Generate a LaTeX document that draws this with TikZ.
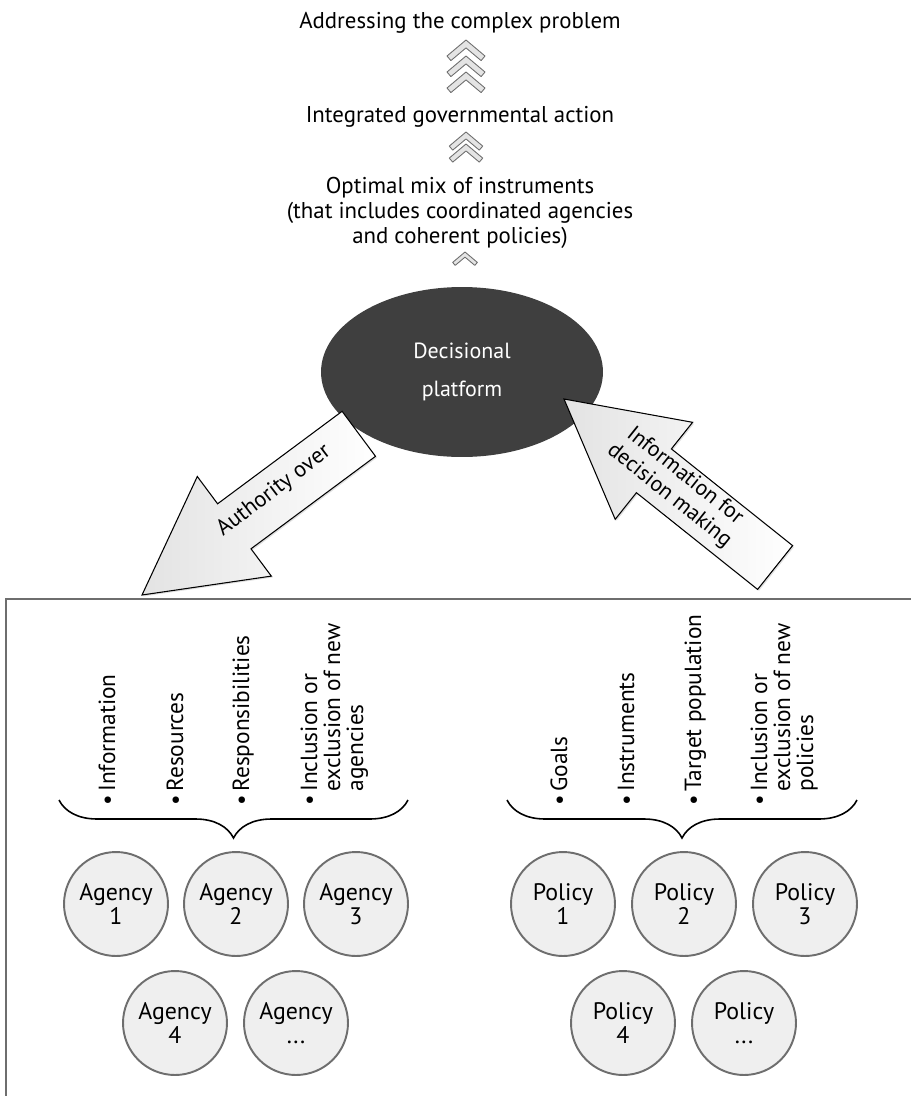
\documentclass[tikz,border=0pt]{standalone}
\usepackage{fontspec}
\setmainfont{PT Sans}
\usepackage{tikz}
\usetikzlibrary{positioning, shapes.geometric, decorations.pathreplacing, shadows}
\definecolor{grisPlataforma}{HTML}{3F3F3F}
\definecolor{grisChevron}{HTML}{E4E4E4}
\definecolor{grisBorde}{HTML}{6E6E6E}
\definecolor{grisBurbuja}{HTML}{EFEFEF}

\begin{document}
\begin{tikzpicture}[
  x=0.02cm, y=-0.02cm,
  every node/.style={font=\fontsize{13}{14.2}\selectfont},
  titulo/.style={anchor=base, align=center},
  chev/.style={fill=grisChevron, draw=grisBorde, line width=0.5pt, line join=round},
  flecha/.style={draw=black, line width=0.6pt, line join=miter, left color=gray!22, right color=white,
    drop shadow={shadow xshift=0.8pt, shadow yshift=-0.8pt, opacity=0.25}},
  viñeta/.style={rotate=90, anchor=base west, inner sep=0pt, font=\fontsize{13.3}{12.4}\selectfont},
  llave/.style={decorate, decoration={brace, amplitude=0.76cm, mirror}, line width=0.9pt},
  burbuja/.style={circle, minimum size=2.08cm, inner sep=0pt, fill=grisBurbuja, draw=grisBorde,
    line width=1.1pt, align=center, font=\fontsize{13.6}{13.8}\selectfont}
]
  \useasboundingbox (0,0) rectangle (910,1096);

  % --- Cadena superior ---
  \node[titulo] (problema) at (460,28)  {Addressing the complex problem};
  \foreach \dy in {40,56,72}
    \draw[chev, shift={(466,\dy)}] (0,0) -- (19,16) -- (15.1,20.6) -- (0,7.9) -- (-15.1,20.6) -- (-19,16) -- cycle;
  \node[titulo] (accion) at (460,122) {Integrated governmental action};
  \foreach \dy in {132,144}
    \draw[chev, shift={(466,\dy)}, scale=0.88] (0,0) -- (19,16) -- (15.1,20.6) -- (0,7.9) -- (-15.1,20.6) -- (-19,16) -- cycle;
  \node[align=center] (mezcla) at (460,213) {Optimal mix of instruments\\(that includes coordinated agencies\\and coherent policies)};
  \draw[chev, shift={(465,252)}, scale=0.65] (0,0) -- (19,16) -- (15.1,20.6) -- (0,7.9) -- (-15.1,20.6) -- (-19,16) -- cycle;

  % --- Plataforma ---
  \node[ellipse, fill=grisPlataforma, minimum width=5.64cm, minimum height=3.4cm, text=white,
    align=center, font=\fontsize{12.5}{22}\selectfont] (plataforma) at (462,372) {Decisional\\platform};

  % --- Flecha 1: autoridad ---
  \draw[flecha] (142,595) -- (271.3,576.1) -- (251.0,548.8) -- (375.5,456.3)
    -- (342.1,411.3) -- (217.6,503.8) -- (197.3,476.5) -- cycle;
  \node[rotate=37.3, font=\fontsize{12.8}{14}\selectfont] (autoridad) at (274,491) {Authority over};

  % --- Flecha 2: informacion ---
  \draw[flecha] (564,399) -- (615.2,519.3) -- (636.4,492.7) -- (757.6,589.4)
    -- (792.6,545.6) -- (671.4,448.9) -- (692.6,422.3) -- cycle;
  \node[rotate=-38.6, align=center, font=\fontsize{12.5}{14.2}\selectfont] (informacion) at (677,486) {Information for\\decision making};

  % --- Caja inferior ---
  \draw[grisBorde, line width=1.1pt] (6,1100) |- (914,599);

  % --- Agencias ---
  \node[viñeta] (infoA) at (115,806) {\textbullet\hspace{2pt}Information};
  \node[viñeta] (recA)  at (183,806) {\textbullet\hspace{2pt}Resources};
  \node[viñeta] (resA)  at (249,806) {\textbullet\hspace{2pt}Responsibilities};
  \node[viñeta] (incA)  at (317,806) {\textbullet\hspace{2pt}\begin{tabular}[t]{@{}l@{}}Inclusion or\\exclusion of new\\agencies\end{tabular}};
  \draw[llave] (59,800) -- (408,800);

  \node[burbuja] (ag1) at (116,904)  {Agency\\1};
  \node[burbuja] (ag2) at (236,904)  {Agency\\2};
  \node[burbuja] (ag3) at (356,904)  {Agency\\3};
  \node[burbuja] (ag4) at (175,1023) {Agency\\4};
  \node[burbuja] (ag5) at (296,1023) {Agency\\...};

  % --- Politicas ---
  \node[viñeta] (metP) at (567,806) {\textbullet\hspace{2pt}Goals};
  \node[viñeta] (insP) at (634,806) {\textbullet\hspace{2pt}Instruments};
  \node[viñeta] (pobP) at (701,806) {\textbullet\hspace{2pt}Target population};
  \node[viñeta] (incP) at (767,806) {\textbullet\hspace{2pt}\begin{tabular}[t]{@{}l@{}}Inclusion or\\exclusion of new\\policies\end{tabular}};
  \draw[llave] (507,800) -- (857,800);

  \node[burbuja] (po1) at (563,904)  {Policy\\1};
  \node[burbuja] (po2) at (684,904)  {Policy\\2};
  \node[burbuja] (po3) at (805,904)  {Policy\\3};
  \node[burbuja] (po4) at (623,1023) {Policy\\4};
  \node[burbuja] (po5) at (744,1023) {Policy\\...};
\end{tikzpicture}
\end{document}
